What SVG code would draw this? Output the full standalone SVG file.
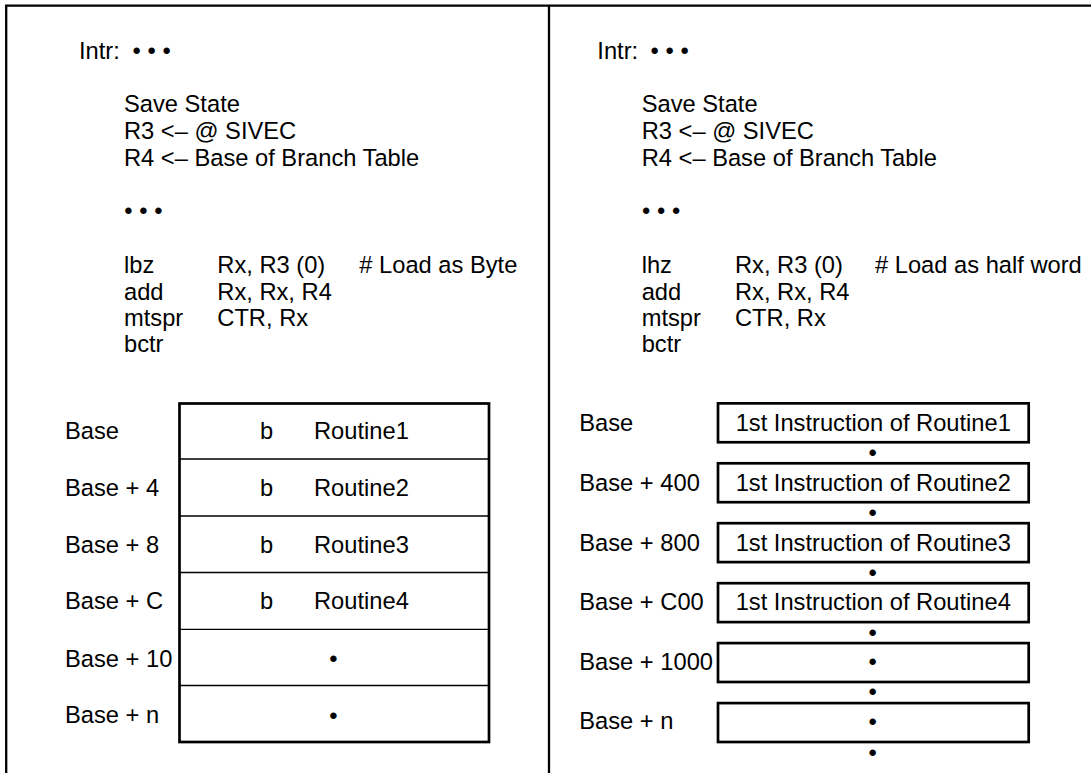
<svg xmlns="http://www.w3.org/2000/svg" width="1091" height="773" viewBox="0 0 1091 773">
<style>
text{font-family:"Liberation Sans",Arial,Helvetica,sans-serif;font-size:23.7px;fill:#000}
.mid{text-anchor:middle}
.frame{stroke:#000;stroke-width:2.3;fill:none}
.thick{stroke:#000;stroke-width:2.7;fill:#fff}
.thin{stroke:#000;stroke-width:1.3;fill:none}
</style>
<rect width="1091" height="773" fill="#fff"/>
<g id="frame">
<path class="frame" d="M6.2 773V5.7H1091M549 5.7V773"/>
</g>

<g id="left-code">
<text x="79" y="59.3">Intr:</text>
<text x="132.5 147.5 162.5" y="59.3">•••</text>
<text x="124" y="112">Save State</text>
<text x="124" y="138.7">R3 &lt;– @ SIVEC</text>
<text x="124" y="165.5">R4 &lt;– Base of Branch Table</text>
<text x="124.2 139.2 154.2" y="218.7">•••</text>
<text x="124" y="273">lbz</text><text x="217.3" y="273">Rx, R3 (0)</text><text x="359.3" y="273"># Load as Byte</text>
<text x="124" y="299.7">add</text><text x="217.3" y="299.7">Rx, Rx, R4</text>
<text x="124" y="326.3">mtspr</text><text x="217.3" y="326.3">CTR, Rx</text>
<text x="124" y="352.3">bctr</text>
</g>

<g id="right-code">
<text x="597.3" y="59.3">Intr:</text>
<text x="650.5 665.5 680.5" y="59.3">•••</text>
<text x="641.7" y="112">Save State</text>
<text x="641.7" y="138.7">R3 &lt;– @ SIVEC</text>
<text x="641.7" y="165.5">R4 &lt;– Base of Branch Table</text>
<text x="642 657 672" y="218.7">•••</text>
<text x="641.7" y="273">lhz</text><text x="735" y="273">Rx, R3 (0)</text><text x="875" y="273"># Load as half word</text>
<text x="641.7" y="299.7">add</text><text x="735" y="299.7">Rx, Rx, R4</text>
<text x="641.7" y="326.3">mtspr</text><text x="735" y="326.3">CTR, Rx</text>
<text x="641.7" y="352.3">bctr</text>
</g>

<g id="branch-table">
<rect class="thick" x="179.5" y="403.5" width="309.5" height="338.5"/>
<path class="thin" d="M179.5 459H489M179.5 516H489M179.5 572.5H489M179.5 629.3H489M179.5 685.5H489"/>
</g>
<g id="bt-row1"><text x="65" y="439.3">Base</text><text x="260" y="439.3">b</text><text x="314" y="439.3">Routine1</text></g>
<g id="bt-row2"><text x="65" y="496">Base + 4</text><text x="260" y="496">b</text><text x="314" y="496">Routine2</text></g>
<g id="bt-row3"><text x="65" y="552.7">Base + 8</text><text x="260" y="552.7">b</text><text x="314" y="552.7">Routine3</text></g>
<g id="bt-row4"><text x="65" y="609.3">Base + C</text><text x="260" y="609.3">b</text><text x="314" y="609.3">Routine4</text></g>
<g id="bt-row5"><text x="65" y="666.7">Base + 10</text><text class="mid" x="333.3" y="666.8">•</text></g>
<g id="bt-row6"><text x="65" y="723.3">Base + n</text><text class="mid" x="333.3" y="723.5">•</text></g>

<g id="rt-box1"><rect class="thick" x="718" y="403.35" width="310.7" height="38.9"/><text x="579.3" y="431">Base</text><text class="mid" x="873.3" y="431">1st Instruction of Routine1</text></g>
<g id="rt-box2"><rect class="thick" x="718" y="463.3" width="310.7" height="38.9"/><text x="579.3" y="490.8">Base + 400</text><text class="mid" x="873.3" y="490.8">1st Instruction of Routine2</text></g>
<g id="rt-box3"><rect class="thick" x="718" y="523.2" width="310.7" height="38.9"/><text x="579.3" y="550.7">Base + 800</text><text class="mid" x="873.3" y="550.7">1st Instruction of Routine3</text></g>
<g id="rt-box4"><rect class="thick" x="718" y="583.2" width="310.7" height="38.9"/><text x="579.3" y="610.3">Base + C00</text><text class="mid" x="873.3" y="610.3">1st Instruction of Routine4</text></g>
<g id="rt-box5"><rect class="thick" x="718" y="643.1" width="310.7" height="38.9"/><text x="579.3" y="669.5">Base + 1000</text><text class="mid" x="872.7" y="670.2">•</text></g>
<g id="rt-box6"><rect class="thick" x="718" y="703.1" width="310.7" height="38.9"/><text x="579.3" y="729.3">Base + n</text><text class="mid" x="872.7" y="730.2">•</text></g>
<g id="connectors">
<text class="mid" x="872.7" y="461.1">•</text>
<text class="mid" x="872.7" y="521">•</text>
<text class="mid" x="872.7" y="581">•</text>
<text class="mid" x="872.7" y="640.5">•</text>
<text class="mid" x="872.7" y="700.2">•</text>
<text class="mid" x="872.7" y="760.8">•</text>
</g>
</svg>
